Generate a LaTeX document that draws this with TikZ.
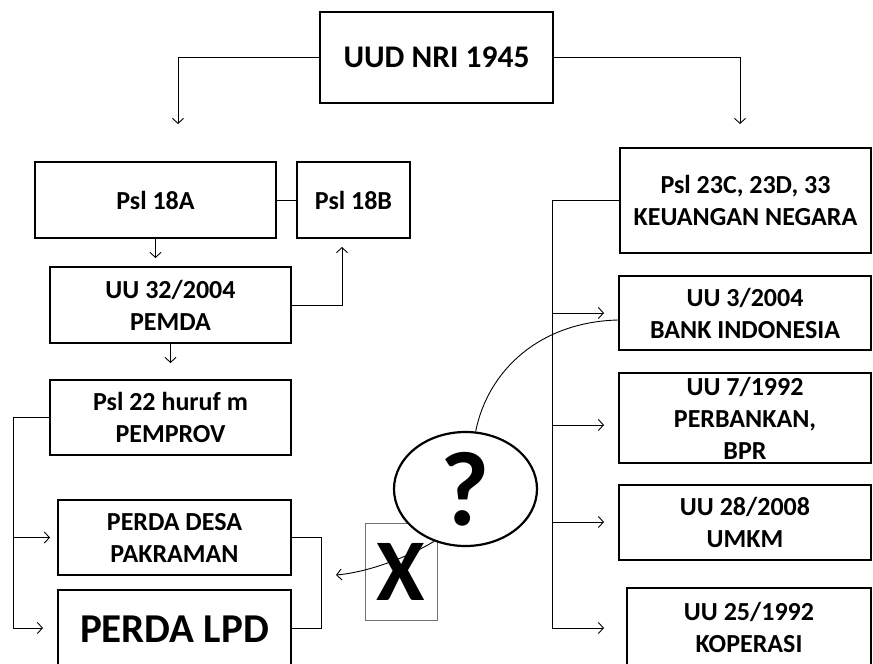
\documentclass[tikz,border=0pt]{standalone}
\usepackage{fontspec}
\setmainfont{Carlito}
\usetikzlibrary{shapes.geometric,arrows.meta}
\begin{document}
\begin{tikzpicture}[x=1pt,y=-1pt,
  box/.style={draw,line width=2.2pt,inner sep=0pt,align=center,font=\bfseries\fontsize{26}{32}\selectfont},
  conn/.style={line width=0.9pt},
  arr/.style={line width=0.9pt,-{Straight Barb[length=5pt,width=11pt,line width=0.9pt]}}]
\clip (0,0) rectangle (873,664);
\fill[white] (0,0) rectangle (873,664);
% nodes
\node[box,minimum width=233pt,minimum height=91pt,font=\bfseries\fontsize{31.5}{36}\selectfont] (uud) at (436.5,57.5) {UUD NRI 1945};
\node[box,minimum width=241pt,minimum height=76pt] (a18) at (155.5,200) {Psl 18A};
\node[box,minimum width=113pt,minimum height=76pt] (b18) at (353.5,200) {Psl 18B};
\node[box,minimum width=241pt,minimum height=76pt] (uu32) at (170.5,305) {UU 32/2004\\PEMDA};
\node[box,minimum width=241pt,minimum height=75pt] (p22) at (170.5,417.5) {Psl 22 huruf m\\PEMPROV};
\node[box,minimum width=233pt,minimum height=75pt] (desa) at (174.5,537.5) {PERDA DESA\\PAKRAMAN};
\node[box,minimum width=233pt,minimum height=78pt,font=\bfseries\fontsize{41}{46}\selectfont] (lpd) at (174.5,629) {PERDA LPD};
\node[box,minimum width=251pt,minimum height=105pt] (keu) at (745.5,200.5) {Psl 23C, 23D, 33\\KEUANGAN NEGARA};
\node[box,minimum width=252pt,minimum height=74pt] (bi) at (745,313) {UU 3/2004\\BANK INDONESIA};
\node[box,minimum width=252pt,minimum height=90pt] (perb) at (745,418) {UU 7/1992\\PERBANKAN,\\BPR};
\node[box,minimum width=252pt,minimum height=75pt] (umkm) at (745,522.5) {UU 28/2008\\UMKM};
\node[box,minimum width=244pt,minimum height=78pt] (kop) at (749,627) {UU 25/1992\\KOPERASI};
\node[draw=black!55,line width=1pt,minimum width=72pt,minimum height=97pt,inner sep=0pt,font=\bfseries\fontsize{88}{90}\selectfont] (xb) at (401,571.5) {X};
\node[draw,ellipse,line width=2.2pt,fill=white,minimum width=143pt,minimum height=114pt,inner sep=0pt,font=\bfseries\fontsize{106}{110}\selectfont] (q) at (465.5,489) {?};
% coordinates
\coordinate (uL) at (178,124);
\coordinate (uR) at (740,124);
\coordinate (a18e) at (155.5,258);
\coordinate (b18e) at (342,247);
\coordinate (uu32e) at (170.5,363);
\coordinate (lc) at (13,417.5);
\coordinate (lb) at (13,628);
\coordinate (lm) at (13,537.5);
\coordinate (desae) at (50,537.5);
\coordinate (lpde) at (43,628);
\coordinate (br) at (321,628);
\coordinate (rc) at (552,200.5);
\coordinate (rb) at (552,628);
\coordinate (r1) at (552,313);
\coordinate (r2) at (552,425);
\coordinate (r3) at (552,522);
\coordinate (e1) at (604,313);
\coordinate (e2) at (604,425);
\coordinate (e3) at (604,522);
\coordinate (e4) at (604,628);
\coordinate (xe) at (336,575);
% connectors
\draw[arr] (uud.west) -| (uL);
\draw[arr] (uud.east) -| (uR);
\draw[conn] (a18.east) -- (b18.west);
\draw[arr] (a18.south) -- (a18e);
\draw[arr] (uu32.east) -| (b18e);
\draw[arr] (uu32.south) -- (uu32e);
\draw[arr] (p22.west) -- (lc) -- (lb) -- (lpde);
\draw[arr] (lm) -- (desae);
\draw[conn] (desa.east) -| (br) -- (br -| lpd.east);
\draw[conn] (keu.west) -- (rc) -- (rb);
\draw[arr] (rb) -- (e4);
\draw[arr] (r1) -- (e1);
\draw[arr] (r2) -- (e2);
\draw[arr] (r3) -- (e3);
\draw[conn] (q.80) .. controls (488,370) and (540,322) .. ([yshift=-7pt]bi.west);
\draw[arr] (q.239) .. controls (410,556) and (370,572) .. (xe);
\end{tikzpicture}
\end{document}
